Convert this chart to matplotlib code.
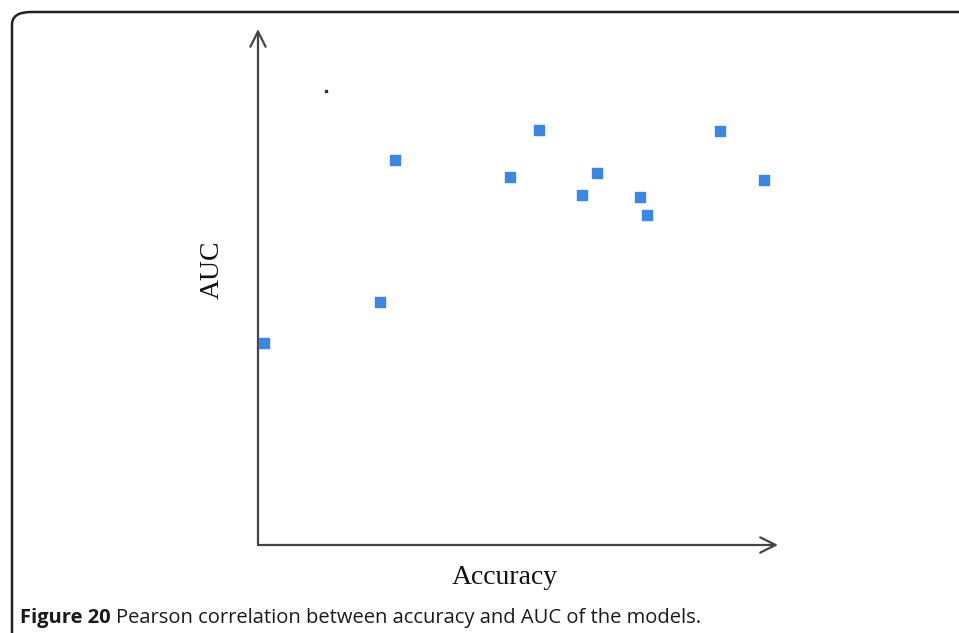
import matplotlib
matplotlib.use('Agg')
import matplotlib.pyplot as plt
from matplotlib.patches import FancyBboxPatch

# DATA (arbitrary units, no ticks shown)
accuracy = [6, 122, 137, 252, 281, 324, 339, 382, 389, 462, 506]
auc = [202, 243, 385, 368, 415, 350, 372, 348, 330, 414, 365]
stray_x, stray_y = [68], [454]

X_MAX, Y_MAX = 520, 516

W, H = 959, 633
fig = plt.figure(figsize=(W / 100, H / 100), dpi=100)

# rounded frame around the figure, open to the right and bottom
frame = FancyBboxPatch((12 / W, -0.2), 1.2, (H - 12) / H + 0.2,
                       boxstyle='round,pad=0,rounding_size=0.02',
                       transform=fig.transFigure, fill=False,
                       edgecolor='#222222', linewidth=1.8)
fig.patches.append(frame)

ax = fig.add_axes([258 / W, (H - 545) / H, 520 / W, 516 / H])
ax.set_xlim(0, X_MAX)
ax.set_ylim(0, Y_MAX)
for s in ax.spines.values():
    s.set_visible(False)
ax.set_xticks([])
ax.set_yticks([])
ax.patch.set_alpha(0)

# hand-drawn style axes with open arrow heads
arrow = dict(arrowstyle='->,head_length=1.1,head_width=0.55', color='#444444',
             lw=1.6, shrinkA=0, shrinkB=0)
ax.annotate('', xy=(0, 1), xytext=(0, 0), xycoords='axes fraction', arrowprops=arrow)
ax.annotate('', xy=(1, 0), xytext=(0, 0), xycoords='axes fraction', arrowprops=arrow)

ax.scatter(accuracy, auc, marker='s', s=48, color='#3b87e6', zorder=3, clip_on=False)
ax.scatter(stray_x, stray_y, marker='s', s=3, color='#333333', zorder=3)

serif = ['Liberation Serif', 'DejaVu Serif']
fig.text(505 / W, 1 - 578 / H, 'Accuracy', family=serif, fontsize=20,
         ha='center', va='center', color='#111111')
fig.text(212 / W, 1 - 270 / H, 'AUC', family=serif, fontsize=20, rotation=90,
         ha='center', va='center', color='#111111')

# caption: bold label followed by regular text
cap_y = 1 - 618 / H
t1 = fig.text(20 / W, cap_y, 'Figure 20', family='Open Sans', fontsize=14.5,
              fontweight='bold', ha='left', va='center', color='#1a1a1a')
fig.canvas.draw()
bb = t1.get_window_extent()
fig.text(bb.x1 / W + 5 / W, cap_y, 'Pearson correlation between accuracy and AUC of the models.',
         family='Open Sans', fontsize=14.5, ha='left', va='center', color='#1a1a1a')

fig.savefig('out.png', dpi=100)
